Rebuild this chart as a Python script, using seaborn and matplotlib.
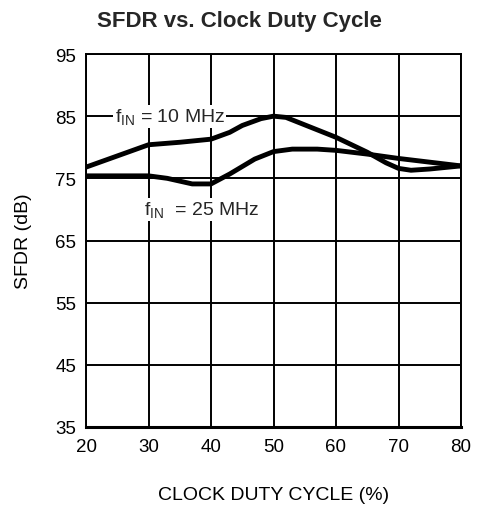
import matplotlib
matplotlib.use("Agg")
import matplotlib.pyplot as plt
import seaborn as sns
import pandas as pd

# Duty cycle (%) and SFDR (dB) for the two input frequencies
duty_10mhz = [20, 25, 30, 35, 40, 43, 45, 48, 50, 52, 55, 60, 65, 68, 70, 72, 75, 78, 80]
sfdr_10mhz = [76.8, 78.6, 80.4, 80.8, 81.3, 82.4, 83.5, 84.6, 85.0, 84.8, 83.6, 81.6, 79.2, 77.5, 76.6, 76.3, 76.5, 76.8, 77.0]

duty_25mhz = [20, 25, 30, 33, 37, 40, 43, 47, 50, 53, 57, 60, 65, 70, 75, 80]
sfdr_25mhz = [75.4, 75.4, 75.4, 75.0, 74.1, 74.1, 75.7, 78.1, 79.3, 79.7, 79.7, 79.5, 78.9, 78.2, 77.6, 77.0]

series_labels = ["f$_{\\mathrm{IN}}$ = 10 MHz", "f$_{\\mathrm{IN}}$  = 25 MHz"]
x_ticks = [20, 30, 40, 50, 60, 70, 80]
y_ticks = [35, 45, 55, 65, 75, 85, 95]

df = pd.concat([
    pd.DataFrame({"duty": duty_10mhz, "sfdr": sfdr_10mhz, "fin": "10"}),
    pd.DataFrame({"duty": duty_25mhz, "sfdr": sfdr_25mhz, "fin": "25"}),
])

sns.set_theme(style="white")
plt.rcParams["font.family"] = ["Liberation Sans", "DejaVu Sans"]
plt.rcParams["mathtext.fontset"] = "custom"
plt.rcParams["mathtext.rm"] = "Liberation Sans"
plt.rcParams["mathtext.it"] = "Liberation Sans:italic"

fig = plt.figure(figsize=(4.78, 5.06), dpi=100)
ax = fig.add_axes([86 / 478, 1 - 428 / 506, 375 / 478, 373 / 506])

sns.lineplot(data=df, x="duty", y="sfdr", units="fin", estimator=None,
             color="black", linewidth=3.5, ax=ax, zorder=3, sort=False)

ax.set_xlim(20, 80)
ax.set_ylim(35, 95)
ax.set_xticks(x_ticks)
ax.set_yticks(y_ticks)
ax.grid(True, color="black", linewidth=1.4)
for s in ax.spines.values():
    s.set_color("black")
    s.set_linewidth(1.4)
ax.spines["bottom"].set_linewidth(2.2)
ax.tick_params(axis="x", direction="out", length=5, width=1.4,
               colors="black", labelsize=13.5, pad=3)
ax.tick_params(axis="y", length=0, colors="black", labelsize=13.5, pad=7)
ax.set_xlabel("CLOCK DUTY CYCLE (%)", fontsize=14, labelpad=22, color="black")
ax.set_ylabel("SFDR (dB)", fontsize=14, labelpad=17, color="black")

box = dict(facecolor="white", edgecolor="none", pad=1.0)
ax.text(33.4, 85.0, series_labels[0], fontsize=14, ha="center", va="center",
        bbox=box, zorder=4)
ax.text(38.5, 70.0, series_labels[1], fontsize=14, ha="center", va="center",
        bbox=box, zorder=4)

fig.suptitle("SFDR vs. Clock Duty Cycle", x=0.5, y=1 - 21 / 506,
             fontsize=16, fontweight="bold", va="center")

fig.savefig("out.png", dpi=100)
